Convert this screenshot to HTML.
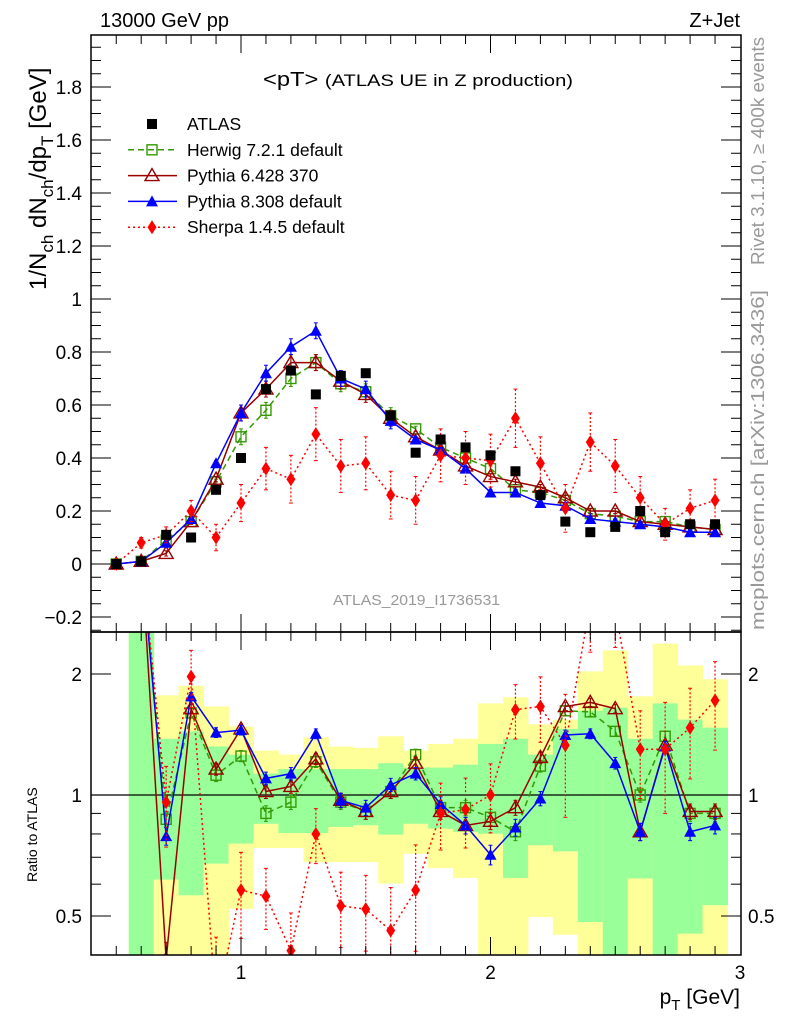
<!DOCTYPE html>
<html><head><meta charset="utf-8"><style>
html,body{margin:0;padding:0;background:#fff;width:786px;height:1024px;overflow:hidden;}
svg{display:block;font-family:"Liberation Sans",sans-serif;}
</style></head><body>
<svg id="c" width="786" height="1024" viewBox="0 0 786 1024" xmlns="http://www.w3.org/2000/svg">
<g id="bands"></g>
<g id="marks"></g>
<g id="axes"></g>
<text x="100" y="27" font-size="20">13000 GeV pp</text>
<text x="740" y="27" font-size="20" text-anchor="end">Z+Jet</text>
<text x="263" y="86" font-size="20" textLength="310" lengthAdjust="spacingAndGlyphs">&lt;pT&gt; <tspan font-size="17">(ATLAS UE in Z production)</tspan></text>
<text x="333" y="605" font-size="14.5" fill="#999" textLength="167" lengthAdjust="spacingAndGlyphs">ATLAS_2019_I1736531</text>
<text transform="translate(764,265) rotate(-90)" font-size="18" fill="#999" textLength="228" lengthAdjust="spacingAndGlyphs">Rivet 3.1.10, ≥ 400k events</text>
<text transform="translate(764,630) rotate(-90)" font-size="18" fill="#999" textLength="340" lengthAdjust="spacingAndGlyphs">mcplots.cern.ch [arXiv:1306.3436]</text>
<text transform="translate(46,290) rotate(-90)" font-size="24">1/N<tspan font-size="17" dy="7">ch</tspan><tspan dy="-7"> dN</tspan><tspan font-size="17" dy="7">ch</tspan><tspan dy="-7">/dp</tspan><tspan font-size="17" dy="7">T</tspan><tspan dy="-7"> [GeV]</tspan></text>
<text transform="translate(37,882) rotate(-90)" font-size="14">Ratio to ATLAS</text>
<text x="740" y="1004" font-size="21" text-anchor="end">p<tspan font-size="15" dy="6">T</tspan><tspan dy="-6"> [GeV]</tspan></text>
<g id="legend"></g>
</svg>
<script>
const xs=[0.5,0.6,0.7,0.8,0.9,1.0,1.1,1.2,1.3,1.4,1.5,1.6,1.7,1.8,1.9,2.0,2.1,2.2,2.3,2.4,2.5,2.6,2.7,2.8,2.9];
const atlas=[0,0.01,0.11,0.10,0.28,0.40,0.66,0.73,0.64,0.71,0.72,0.56,0.42,0.47,0.44,0.41,0.35,0.26,0.16,0.12,0.14,0.20,0.12,0.15,0.15];
const herwig=[0,0.01,0.09,0.16,0.31,0.48,0.58,0.70,0.76,0.68,0.65,0.56,0.51,0.44,0.40,0.36,0.28,0.27,0.24,0.19,0.18,0.16,0.16,0.14,0.13];
const py6=[0,0.01,0.04,0.16,0.32,0.57,0.66,0.76,0.76,0.69,0.64,0.55,0.48,0.43,0.37,0.33,0.31,0.29,0.25,0.20,0.20,0.16,0.15,0.14,0.13];
const py8=[0,0.01,0.08,0.17,0.38,0.57,0.72,0.82,0.88,0.70,0.66,0.54,0.47,0.43,0.36,0.27,0.27,0.23,0.22,0.17,0.16,0.15,0.14,0.12,0.12];
const sherpa=[0,0.08,0.11,0.20,0.10,0.23,0.36,0.32,0.49,0.37,0.38,0.26,0.24,0.41,0.40,0.39,0.55,0.38,0.21,0.46,0.37,0.25,0.15,0.21,0.24];
const sherpaErr=[0,0.02,0.03,0.04,0.05,0.07,0.08,0.09,0.1,0.1,0.1,0.09,0.09,0.1,0.1,0.1,0.11,0.1,0.09,0.11,0.1,0.08,0.06,0.07,0.08];
const rx=[0.6,0.7,0.8,0.9,1.0,1.1,1.2,1.3,1.4,1.5,1.6,1.7,1.8,1.9,2.0,2.1,2.2,2.3,2.4,2.5,2.6,2.7,2.8,2.9];
const rHerwig=[4,0.87,1.6,1.12,1.25,0.9,0.96,1.21,0.96,0.91,1.02,1.26,0.93,0.93,0.88,0.81,1.18,1.62,1.61,1.44,1.0,1.4,0.9,0.9];
const rPy6=[4,0.39,1.64,1.16,1.46,1.02,1.05,1.23,0.97,0.91,1.02,1.2,0.91,0.84,0.86,0.93,1.24,1.66,1.7,1.64,0.81,1.33,0.91,0.91];
const rPy8=[4,0.79,1.76,1.43,1.45,1.1,1.13,1.42,0.97,0.93,1.06,1.13,0.95,0.84,0.71,0.83,0.98,1.41,1.42,1.2,0.81,1.32,0.81,0.84];
const rSherpa=[4,0.96,1.97,0.3,0.58,0.56,0.41,0.8,0.53,0.52,0.46,0.58,0.9,0.92,1.0,1.63,1.66,1.33,3,2.9,1.3,1.3,1.47,1.72];
const bandX=[0.6,0.7,0.8,0.9,1.0,1.1,1.2,1.3,1.4,1.5,1.6,1.7,1.8,1.9,2.0,2.1,2.2,2.3,2.4,2.5,2.6,2.7,2.8,2.9];
const yelHi=[3,1.77,1.87,1.66,1.48,1.29,1.26,1.39,1.32,1.31,1.40,1.29,1.34,1.38,1.69,1.75,1.50,1.54,2.03,2.29,1.76,2.38,2.10,1.94];
const grnHi=[3,1.38,1.44,1.32,1.26,1.13,1.16,1.16,1.16,1.16,1.20,1.17,1.17,1.19,1.34,1.38,1.26,1.46,1.62,1.65,1.38,1.69,1.54,1.47];
const grnLo=[0.3,0.616,0.563,0.675,0.757,0.848,0.804,0.804,0.833,0.841,0.797,0.848,0.825,0.809,0.801,0.622,0.75,0.724,0.483,0.3,0.62,0.3,0.452,0.532];
const yelLo=[0.3,0.3,0.3,0.3,0.521,0.738,0.738,0.68,0.681,0.681,0.602,0.714,0.658,0.622,0.3,0.3,0.497,0.449,0.3,0.3,0.3,0.3,0.3,0.3];
const mainTicks=[-0.2,0,0.2,0.4,0.6,0.8,1,1.2,1.4,1.6,1.8];
const mainTickLabels=["−0.2","0","0.2","0.4","0.6","0.8","1","1.2","1.4","1.6","1.8"];
const xTicks=[1,2,3];
const ratioTicks=[0.5,1,2];

const L=91,R=741,T=35,MB=632,RB=955;
const X=v=>241+(v-1)*249.5;
const Y=v=>564-v*265;
const RY=v=>795-Math.log2(v)*121;
const NS="http://www.w3.org/2000/svg";
function mk(tag,attrs,parent){const e=document.createElementNS(NS,tag);for(const k in attrs)e.setAttribute(k,attrs[k]);parent.appendChild(e);return e;}
const svg=document.getElementById('c');
const defs=mk('defs',{},svg);
const cp1=mk('clipPath',{id:'cm'},defs);mk('rect',{x:L,y:T,width:R-L,height:MB-T},cp1);
const cp2=mk('clipPath',{id:'cr'},defs);mk('rect',{x:L,y:MB,width:R-L,height:RB-MB},cp2);

const bands=document.getElementById('bands');
bands.setAttribute('clip-path','url(#cr)');
bandX.forEach((b,i)=>{
  const x0=X(b-0.05),x1=X(b+0.05);
  const y=mk('rect',{x:x0,y:RY(yelHi[i]),width:x1-x0+0.5,height:RY(yelLo[i])-RY(yelHi[i]),fill:'#ffff99'},bands);
  
  
  const g=mk('rect',{x:x0,y:RY(grnHi[i]),width:x1-x0+0.5,height:RY(grnLo[i])-RY(grnHi[i]),fill:'#99ff99'},bands);
  
  
});

const marks=document.getElementById('marks');
const gm=mk('g',{'clip-path':'url(#cm)'},marks);
const gr=mk('g',{'clip-path':'url(#cr)'},marks);
mk('line',{x1:L,x2:R,y1:RY(1),y2:RY(1),stroke:'#000','stroke-width':1.2},gr);

function marker(type,cx,cy,col,par){
  let e;
  if(type==='sq') e=mk('rect',{x:cx-5,y:cy-5,width:10,height:10,fill:'#000'},par);
  else if(type==='osq') e=mk('rect',{x:cx-5,y:cy-5,width:10,height:10,fill:'none',stroke:col,'stroke-width':1.4},par);
  else if(type==='otri') e=mk('polygon',{points:`${cx},${cy-7} ${cx-7},${cy+5} ${cx+7},${cy+5}`,fill:'none',stroke:col,'stroke-width':1.4},par);
  else if(type==='tri') e=mk('polygon',{points:`${cx},${cy-6} ${cx-6},${cy+5} ${cx+6},${cy+5}`,fill:col},par);
  else e=mk('polygon',{points:`${cx},${cy-7} ${cx-4.5},${cy} ${cx},${cy+7} ${cx+4.5},${cy}`,fill:col},par);
  return e;
}
function series(xv,vals,errs,yf,col,dash,type,par,name,width){
  const g=mk('g',{},par);
  
  
  if(dash!==null){
    mk('polyline',{points:xv.map((x,i)=>X(x)+','+yf(vals[i])).join(' '),fill:'none',stroke:col,'stroke-width':width||1.5,'stroke-dasharray':dash},g);
  }
  xv.forEach((x,i)=>{
    const cx=X(x),cy=yf(vals[i]);
    if(errs){const e=errs[i];
      const lo=yf(Math.max(vals[i]-e,0.01)),hi=yf(vals[i]+e);
      mk('line',{x1:cx,x2:cx,y1:hi,y2:lo,stroke:col,'stroke-width':1.2,'stroke-dasharray':type==='dia'?'2,2':''},g);
      mk('line',{x1:cx-2,x2:cx+2,y1:hi,y2:hi,stroke:col,'stroke-width':1},g);
      mk('line',{x1:cx-2,x2:cx+2,y1:lo,y2:lo,stroke:col,'stroke-width':1},g);
    }
    const m=marker(type,cx,cy,col,g);
    
    
  });
}
const smallErr=xs.map((x,i)=>0.01+0.02*(i>4&&i<12?1:0));
series(xs,herwig,smallErr,Y,'#339900','6,4','osq',gm,'herwig-series');
series(xs,py6,smallErr,Y,'#990000','','otri',gm,'pythia6-series');
series(xs,py8,smallErr,Y,'#0000ff','','tri',gm,'pythia8-series');
series(xs,sherpa,sherpaErr,Y,'#ff0000','2,3','dia',gm,'sherpa-series');
series(xs,atlas,null,Y,'#000',null,'sq',gm,'atlas-data');

const rErr=rx.map((x,i)=>0.04);
const rErrS=sherpaErr.slice(1).map((e,i)=>e/Math.max(atlas[i+1],0.05)*0.8);
series(rx,rHerwig,rErr,RY,'#339900','6,4','osq',gr,'herwig-ratio');
series(rx,rPy6,rErr,RY,'#990000','','otri',gr,'pythia6-ratio');
series(rx,rPy8,rErr,RY,'#0000ff','','tri',gr,'pythia8-ratio');
series(rx,rSherpa,rErrS,RY,'#ff0000','2,3','dia',gr,'sherpa-ratio');

const ax=document.getElementById('axes');
mk('rect',{x:L,y:T,width:R-L,height:MB-T,fill:'none',stroke:'#000','stroke-width':1.5},ax);
mk('rect',{x:L,y:MB,width:R-L,height:RB-MB,fill:'none',stroke:'#000','stroke-width':1.5},ax);
for(let k=5;k<=29;k++){const v=k/10,x=X(v),big=(k%10===0);const h=big?18:9;
  [T,MB].forEach(yy=>{mk('line',{x1:x,x2:x,y1:yy,y2:yy+h,stroke:'#000','stroke-width':1},ax);});
  [MB,RB].forEach(yy=>{mk('line',{x1:x,x2:x,y1:yy,y2:yy-h,stroke:'#000','stroke-width':1},ax);});
}
xTicks.forEach(v=>{const t=mk('text',{x:X(v),y:979,'font-size':19,'text-anchor':'middle'},ax);t.textContent=String(v);
  
  });
for(let k=-5;k<=39;k++){const v=k*0.05,y=Y(v);if(y<T||y>MB)continue;const big=(k%4===0);const w=big?20:10;
  mk('line',{x1:L,x2:L+w,y1:y,y2:y,stroke:'#000','stroke-width':1},ax);
  mk('line',{x1:R,x2:R-w,y1:y,y2:y,stroke:'#000','stroke-width':1},ax);}
mainTicks.forEach((v,i)=>{const t=mk('text',{x:82,y:Y(v)+7,'font-size':19,'text-anchor':'end'},ax);t.textContent=mainTickLabels[i];
  
  });
[0.4,0.5,0.6,0.7,0.8,0.9,1,2].forEach(v=>{const y=RY(v);const big=(v===0.5||v===1||v===2);const w=big?20:10;
  mk('line',{x1:L,x2:L+w,y1:y,y2:y,stroke:'#000','stroke-width':1},ax);
  mk('line',{x1:R,x2:R-w,y1:y,y2:y,stroke:'#000','stroke-width':1},ax);});
ratioTicks.forEach(v=>{
  const t=mk('text',{x:82,y:RY(v)+7,'font-size':19,'text-anchor':'end'},ax);t.textContent=String(v);
  
  
  const t2=mk('text',{x:748,y:RY(v)+7,'font-size':19},ax);t2.textContent=String(v);
  
  
});

const lg=document.getElementById('legend');
const ents=[['ATLAS','#000',null,'sq'],['Herwig 7.2.1 default','#339900','6,4','osq'],['Pythia 6.428 370','#990000','','otri'],['Pythia 8.308 default','#0000ff','','tri'],['Sherpa 1.4.5 default','#ff0000','2,3','dia']];
ents.forEach((e,i)=>{const y=124+i*25.8;const g=mk('g',{},lg);
  
  
  if(e[2]!==null)mk('line',{x1:128,x2:177,y1:y,y2:y,stroke:e[1],'stroke-width':1.5,'stroke-dasharray':e[2]},g);
  marker(e[3],152,y,e[1],g);
  const t=mk('text',{x:187,y:y+6,'font-size':17.5},g);t.textContent=e[0];});
</script>
</body></html>
